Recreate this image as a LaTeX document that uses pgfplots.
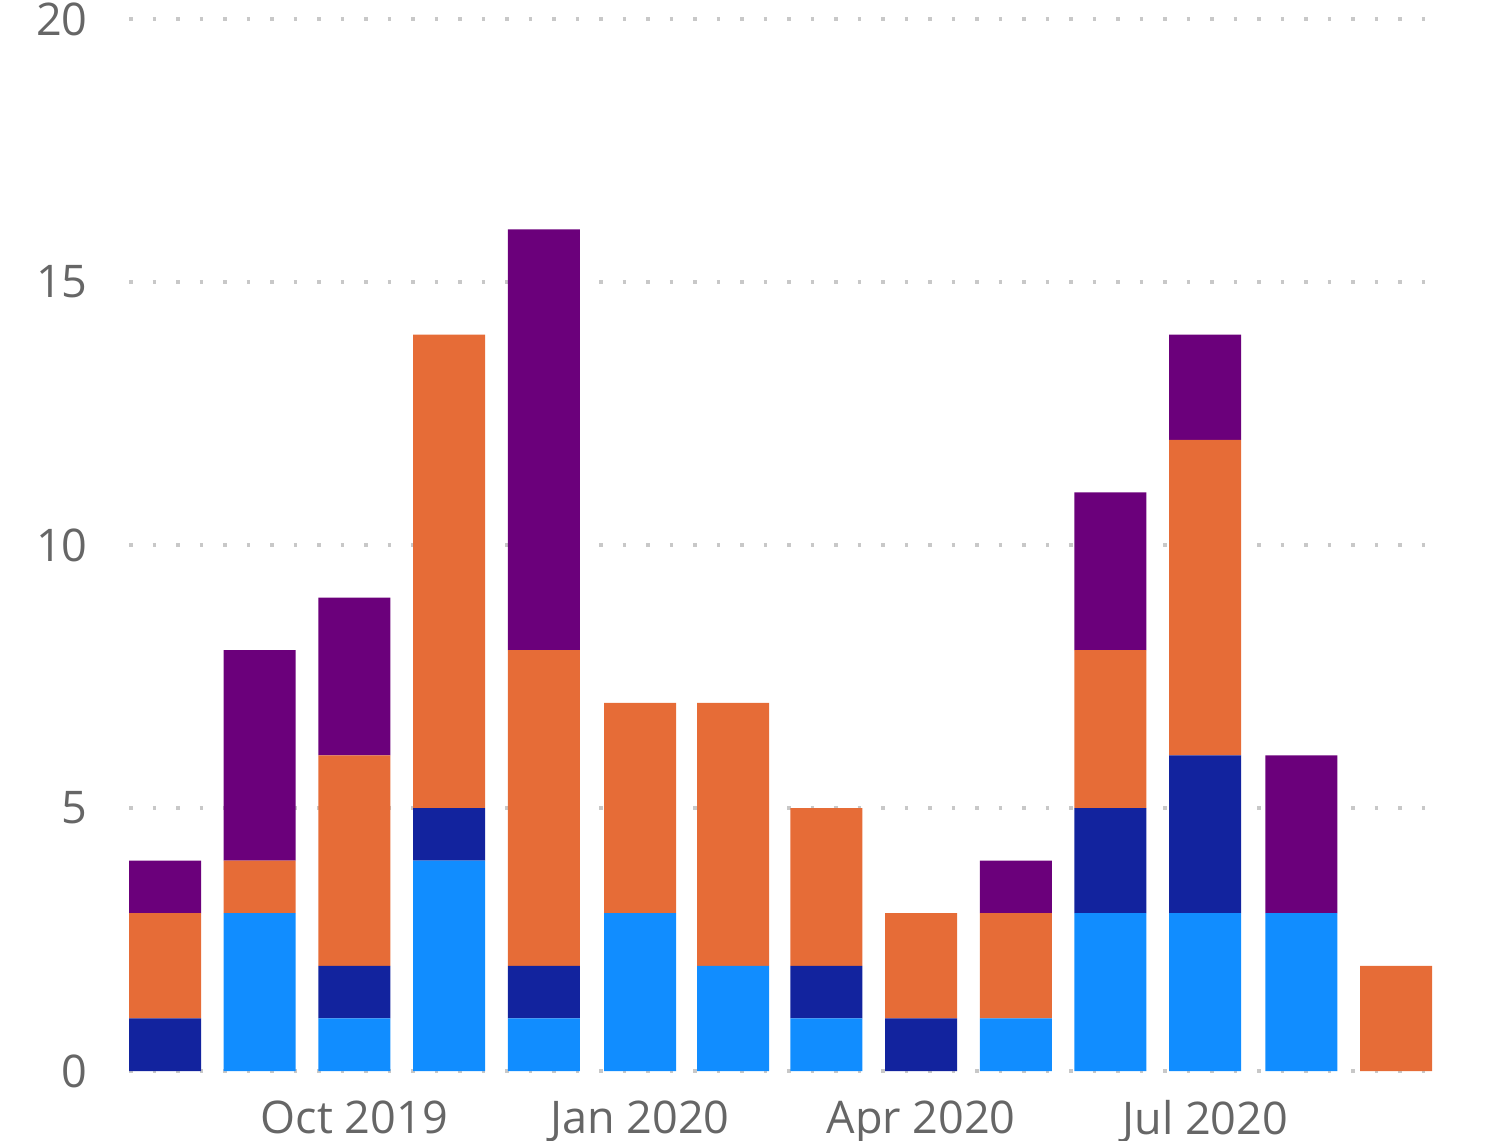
\documentclass[border=0pt]{standalone}
\usepackage{fontspec}
\setmainfont{Open Sans}
\usepackage{pgfplots}
\usepackage{pgfplotstable}
\pgfplotsset{compat=1.18}
\definecolor{cLight}{HTML}{118DFF}
\definecolor{cDark}{HTML}{12239E}
\definecolor{cOrange}{HTML}{E66C37}
\definecolor{cPurple}{HTML}{6B007B}
\definecolor{cText}{HTML}{666666}
\definecolor{cGrid}{HTML}{C8C8C8}
\pgfplotstableread{
x light dark orange purple
15.5 0 1 2 1
46 3 0 1 4
76.5 1 1 4 3
107 4 1 9 0
137.5 1 1 6 8
168.5 3 0 4 0
198.5 2 0 5 0
228.5 1 1 3 0
259 0 1 2 0
289.5 1 0 2 1
320 3 2 3 3
350.5 3 3 6 2
381.5 3 0 0 3
412 0 0 2 0
}\data
\begin{document}
\begin{tikzpicture}
\begin{axis}[
  scale only axis,
  width=651.5pt, height=526pt,
  xmin=3.906, xmax=423.55,
  ymin=0, ymax=20,
  ybar stacked,
  bar width=23.19,
  axis line style={draw=none},
  major tick length=0pt,
  ytick={0,5,10,15,20},
  xtick={76.5,168.5,259,350.5},
  xticklabels={Oct 2019,Jan 2020,Apr 2020,Jul 2020},
  ymajorgrids,
  grid style={cGrid, line width=1.75pt, dash pattern=on 1.75pt off 10pt},
  ticklabel style={font=\fontsize{22.5}{27}\selectfont, text=cText},
  yticklabel style={anchor=east, inner sep=0pt, xshift=-20.5pt},
  xticklabel style={anchor=north, inner sep=0pt, yshift=-14.5pt},
  /pgf/number format/assume math mode=true,
  every axis plot/.append style={draw=none},
]
\addplot[fill=cLight] table[x=x,y=light]{\data};
\addplot[fill=cDark] table[x=x,y=dark]{\data};
\addplot[fill=cOrange] table[x=x,y=orange]{\data};
\addplot[fill=cPurple] table[x=x,y=purple]{\data};
\coordinate (bl) at (rel axis cs:0,0);
\coordinate (tr) at (rel axis cs:1,1);
\end{axis}
\pgfresetboundingbox
\path[use as bounding box] ([xshift=-64.5pt,yshift=-34.5pt]bl) rectangle ([xshift=27pt,yshift=9.5pt]tr);
\end{tikzpicture}
\end{document}
